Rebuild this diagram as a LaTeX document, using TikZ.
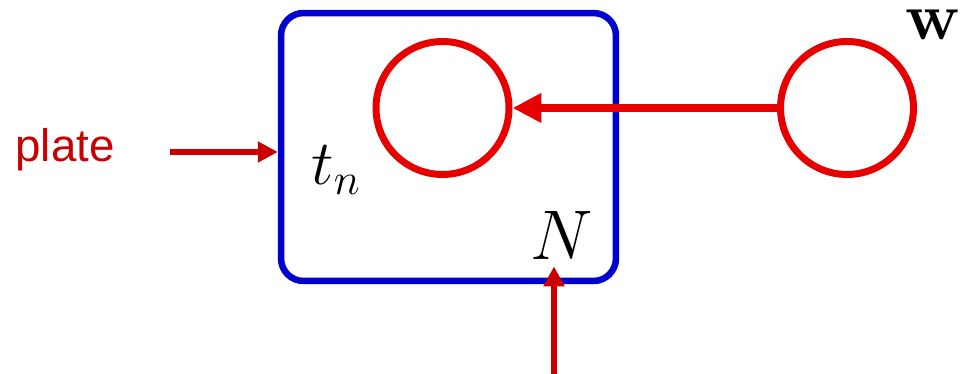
\RequirePackage{fix-cm}
\documentclass[tikz,border=0pt]{standalone}
\usepackage{amsmath}
\usepackage{fontspec}
\setsansfont{Liberation Sans}
\usepackage{tikz}
\usetikzlibrary{arrows.meta,positioning}
\definecolor{platered}{HTML}{C80000}
\definecolor{nodered}{HTML}{E60000}
\definecolor{plateblue}{HTML}{0000D0}
\tikzset{
  rv/.style={circle,draw=nodered,line width=0.14cm,minimum size=2.66cm,inner sep=0pt},
  plate/.style={draw=plateblue,rounded corners=0.45cm,line width=0.13cm,minimum width=6.7cm,minimum height=5.36cm,inner sep=0pt},
  arrow/.style={-{Triangle[length=0.58cm,width=0.56cm]},line width=0.16cm,draw=nodered},
  pointer/.style={-{Triangle[length=0.4cm,width=0.4cm]},line width=0.12cm,draw=platered}
}
\begin{document}
\begin{tikzpicture}[x=0.02cm,y=-0.02cm,font=\fontsize{36}{42}\selectfont]
\useasboundingbox (0,0) rectangle (965,374);
\node[plate](pl) at (448.5,147) {};
\node[rv](t) at (442.5,108) {};
\node[rv](w) at (847,108) {};
\node[font=\bfseries\fontsize{38}{44}\selectfont,inner sep=1pt](wlab) at (933,25) {w};
\node(tn) at (336,170) {$t_n$};
\node[font=\fontsize{40}{46}\selectfont,inner sep=4pt](N) at (562,235) {$N$};
\node[font=\sffamily\fontsize{26}{31}\selectfont,text=platered](plab) at (65,150) {plate};
\coordinate (pstart) at (170,152);
\coordinate (nstart) at (554,374);
\draw[arrow](w) -- (t);
\draw[pointer](pstart) -- (pstart -| pl.west);
\draw[pointer](nstart) -- (nstart |- N.south);
\end{tikzpicture}
\end{document}
